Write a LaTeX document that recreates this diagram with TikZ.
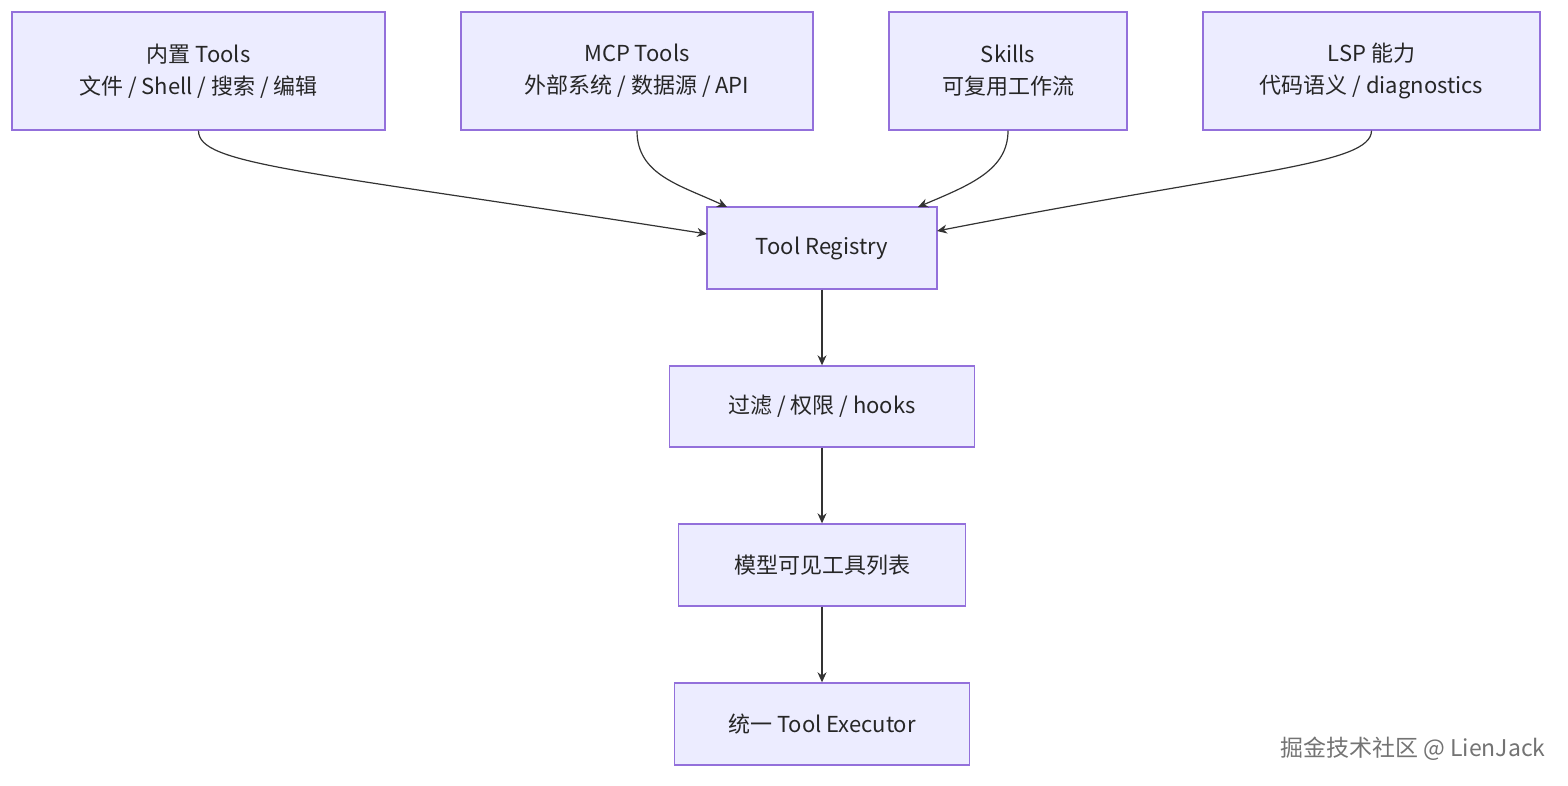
\documentclass[tikz,border=0pt]{standalone}
\usepackage{fontspec}
\setmainfont{Noto Sans CJK SC}
\usetikzlibrary{arrows.meta}
\definecolor{bx}{HTML}{ECECFF}
\definecolor{bd}{HTML}{9370DB}
\definecolor{ln}{HTML}{333333}
\begin{document}
\begin{tikzpicture}[x=0.5pt,y=-0.5pt,
 box/.style={draw=bd,fill=bx,line width=0.7pt,inner sep=0pt,align=center,font=\fontsize{11}{16}\selectfont,text=black!85},
 arr/.style={draw=ln,line width=0.6pt,-{Stealth[length=5pt,width=4.5pt]}}]
\useasboundingbox (0,0) rectangle (1568,786);
\node[box,minimum width=186.5pt,minimum height=59pt] (a) at (198.5,71) {内置 Tools\\文件 / Shell / 搜索 / 编辑};
\node[box,minimum width=176pt,minimum height=59pt] (b) at (637,71) {MCP Tools\\外部系统 / 数据源 / API};
\node[box,minimum width=119pt,minimum height=59pt] (c) at (1008,71) {Skills\\可复用工作流};
\node[box,minimum width=168.5pt,minimum height=59pt] (d) at (1371.5,71) {LSP 能力\\代码语义 / diagnostics};
\node[box,minimum width=115pt,minimum height=41pt] (r) at (822,248) {Tool Registry};
\node[box,minimum width=152.5pt,minimum height=40.5pt] (f) at (822,406.5) {过滤 / 权限 / hooks};
\node[box,minimum width=143.5pt,minimum height=41pt] (m) at (822,565) {模型可见工具列表};
\node[box,minimum width=147.5pt,minimum height=41pt] (e) at (822,724) {统一 Tool Executor};
\coordinate (rl) at (707,234);
\coordinate (rt1) at (727,207);
\coordinate (rt2) at (918,207);
\coordinate (rr) at (937,231);
\draw[arr] (a.south) .. controls (198.5,165) and (300,170) .. (rl);
\draw[arr] (b.south) .. controls (637,175) and (680,185) .. (rt1);
\draw[arr] (c.south) .. controls (1008,170) and (970,185) .. (rt2);
\draw[arr] (d.south) .. controls (1371,165) and (1250,170) .. (rr);
\draw[arr] (r) -- (f);
\draw[arr] (f) -- (m);
\draw[arr] (m) -- (e);
\node[anchor=east,text=black!55,font=\fontsize{11.5}{14}\selectfont,inner sep=0pt] (w) at (1546,749) {掘金技术社区 @ LienJack};
\end{tikzpicture}
\end{document}
